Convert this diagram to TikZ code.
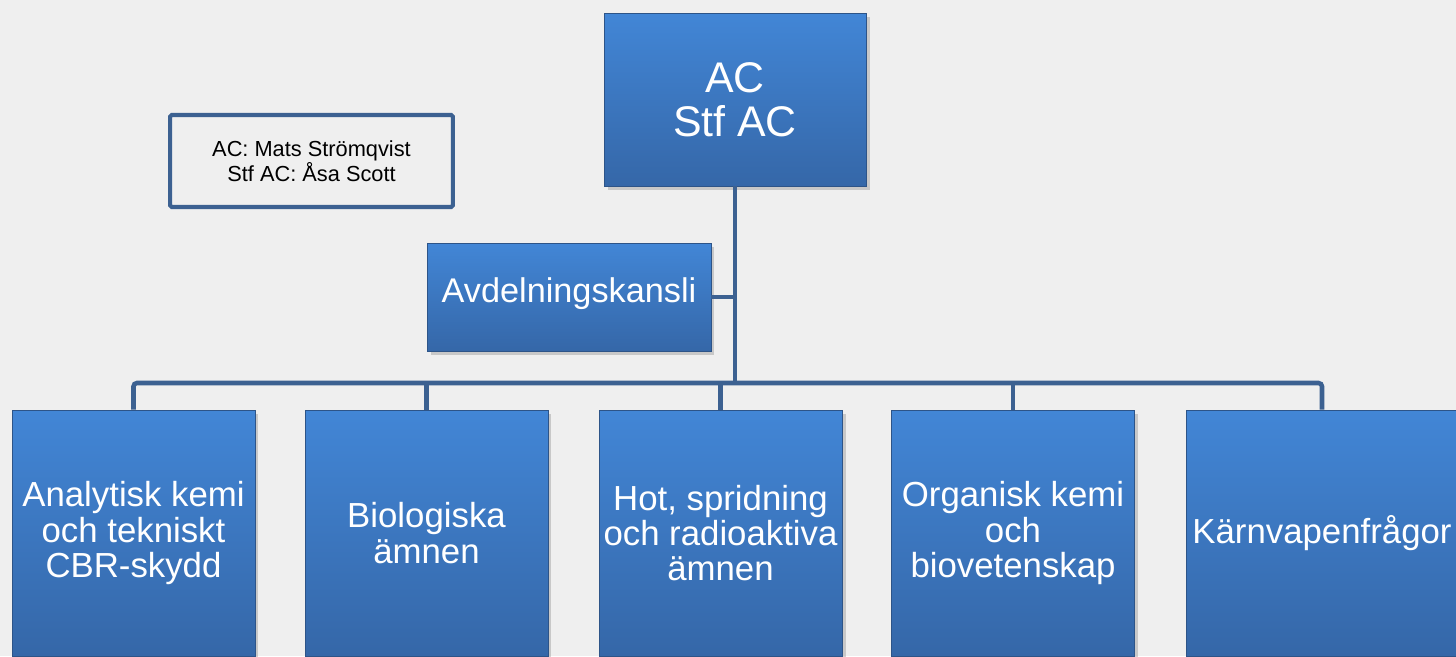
\documentclass[tikz,border=0pt]{standalone}
\usepackage{fontspec}
\setmainfont{Liberation Sans}
\usetikzlibrary{positioning,shadows}

\definecolor{bgc}{RGB}{239,239,239}
\definecolor{boxtop}{RGB}{66,134,214}
\definecolor{boxbot}{RGB}{53,103,168}
\definecolor{boxedge}{RGB}{45,84,136}
\definecolor{linec}{RGB}{60,97,145}

\begin{document}
\begin{tikzpicture}[x=0.02cm, y=-0.02cm,
    unit/.style={draw=boxedge, line width=0.5pt, top color=boxtop, bottom color=boxbot,
      text=white, align=center, inner sep=2pt,
      drop shadow={shadow xshift=2pt, shadow yshift=-2.5pt, opacity=0.35}},
    dept/.style={unit, minimum width=4.86cm, minimum height=4.92cm,
      font=\fontsize{19.8}{20.1}\selectfont},
    infobox/.style={draw=linec, line width=2.3pt, fill=bgc, rounded corners=1pt,
      align=center, minimum width=5.66cm, minimum height=1.84cm,
      font=\fontsize{12.4}{14.4}\selectfont},
    conn/.style={draw=linec, line width=2.6pt, rounded corners=2pt}
  ]
    % Page
    \fill[bgc] (0,0) rectangle (1456,656);
    \useasboundingbox (0,0) rectangle (1456,656);

    % Head and staff
    \node[unit, minimum width=5.24cm, minimum height=3.46cm,
      font=\fontsize{24.4}{25}\selectfont] (ac) at (735,99.5) {AC\\Stf AC};
    \node[infobox] (names) at (311.5,161) {AC: Mats Strömqvist\\Stf AC: Åsa Scott};
    \node[unit, minimum width=5.68cm, minimum height=2.16cm,
      font=\fontsize{19.5}{20}\selectfont] (kansli) at (569,297)
      {\raisebox{7.5pt}{Avdelningskansli}};

    % Departments
    \node[dept] (kemi)  at (133.5,533) {Analytisk kemi\\och tekniskt\\CBR-skydd};
    \node[dept] (bio)   at (426.5,533) {Biologiska\\ämnen};
    \node[dept] (hot)   at (720.5,533) {Hot, spridning\\och radioaktiva\\ämnen};
    \node[dept] (org)   at (1013,533)  {Organisk kemi\\och\\biovetenskap};
    \node[dept, minimum width=5.44cm] (karn) at (1322,533) {Kärnvapenfrågor};

    % Connectors
    \coordinate (bus) at (735,383);
    \draw[conn] (ac.south) -- (ac.south |- bus);
    \draw[conn] (kansli.east) -- (kansli.east -| ac.south);
    \draw[conn] (kemi.north) -- (kemi.north |- bus) -- (karn.north |- bus) -- (karn.north);
    \draw[conn] (bio.north) -- (bio.north |- bus);
    \draw[conn] (hot.north) -- (hot.north |- bus);
    \draw[conn] (org.north) -- (org.north |- bus);
\end{tikzpicture}
\end{document}
